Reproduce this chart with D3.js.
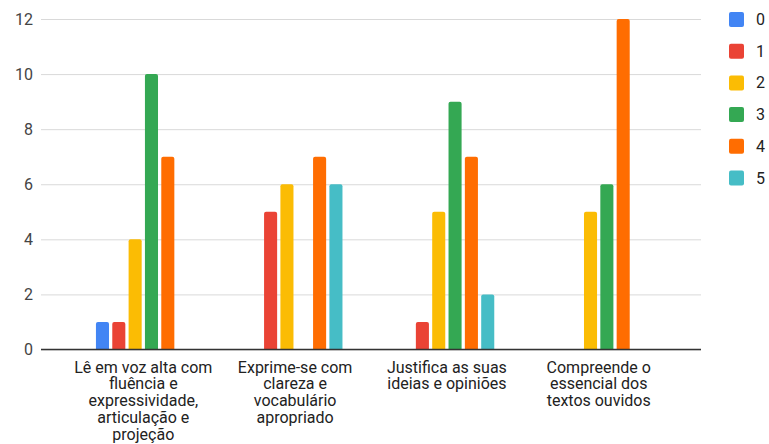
<!DOCTYPE html>
<meta charset="utf-8">
<style>
    body {
        margin: 0;
        background: #fff;
        font-family: Roboto, "Noto Sans", sans-serif;
    }
</style>
<svg width="769" height="444"></svg>
<script src="https://d3js.org/d3.v7.min.js"></script>
<script>
    // data
    var categories = [
        ["Lê em voz alta com", "fluência e", "expressividade,", "articulação e", "projeção"],
        ["Exprime-se com", "clareza e", "vocabulário", "apropriado"],
        ["Justifica as suas", "ideias e opiniões"],
        ["Compreende o", "essencial dos", "textos ouvidos"]
    ];
    var seriesNames = ["0", "1", "2", "3", "4", "5"];
    var s0 = [1, 0, 0, 0];
    var s1 = [1, 5, 1, 0];
    var s2 = [4, 6, 5, 5];
    var s3 = [10, 0, 9, 6];
    var s4 = [7, 7, 7, 12];
    var s5 = [0, 6, 2, 0];
    var yTicks = [0, 2, 4, 6, 8, 10, 12];
    var colors = ["#4285f4", "#ea4335", "#fbbc04", "#34a853", "#ff6d01", "#46bdc6"];

    var series = [s0, s1, s2, s3, s4, s5];

    var svg = d3.select("svg"),
        plotLeft = 41, plotRight = 701, plotTop = 19, plotBottom = 349.5;

    var x0 = d3.scaleBand()
        .domain(d3.range(categories.length))
        .range([plotLeft, plotRight])
        .paddingInner(0)
        .paddingOuter(0.174);

    var groupW = 98;
    var x1 = d3.scaleBand()
        .domain(seriesNames)
        .range([-groupW / 2, groupW / 2])
        .paddingInner(0.2)
        .paddingOuter(0.1);

    var y = d3.scaleLinear().domain([0, 12]).range([plotBottom, plotTop]);

    // gridlines + tick labels
    var yAxis = d3.axisLeft(y).tickValues(yTicks).tickSize(-(plotRight - plotLeft)).tickPadding(8);
    var gy = svg.append("g")
        .attr("transform", "translate(" + plotLeft + ",0)")
        .call(yAxis);
    gy.select(".domain").remove();
    gy.selectAll(".tick line").attr("stroke", "#d9d9d9").attr("stroke-width", 1);
    gy.selectAll(".tick text")
        .attr("fill", "#444")
        .style("font-size", "16px")
        .style("font-family", "Roboto, sans-serif");

    // bars
    var bars = [];
    series.forEach(function (vals, si) {
        vals.forEach(function (v, ci) {
            if (v > 0) bars.push({ s: si, c: ci, v: v });
        });
    });

    svg.append("g").selectAll("path")
        .data(bars)
        .enter().append("path")
        .attr("fill", function (d) { return colors[d.s]; })
        .attr("d", function (d) {
            var bx = x0(d.c) + x0.bandwidth() / 2 + x1(seriesNames[d.s]),
                w = x1.bandwidth(),
                by = y(d.v),
                r = 2;
            return "M" + bx + "," + plotBottom +
                "V" + (by + r) +
                "Q" + bx + "," + by + " " + (bx + r) + "," + by +
                "H" + (bx + w - r) +
                "Q" + (bx + w) + "," + by + " " + (bx + w) + "," + (by + r) +
                "V" + plotBottom + "Z";
        });

    // baseline
    svg.append("line")
        .attr("x1", plotLeft).attr("x2", plotRight)
        .attr("y1", y(0)).attr("y2", y(0))
        .attr("stroke", "#333").attr("stroke-width", 1.5);

    // category labels (wrapped)
    var xAxis = d3.axisBottom(x0).tickSize(0).tickFormat("");
    var gx = svg.append("g").attr("transform", "translate(0," + plotBottom + ")").call(xAxis);
    gx.select(".domain").remove();
    gx.selectAll(".tick").each(function (ci) {
        var t = d3.select(this).append("text")
            .attr("text-anchor", "middle")
            .attr("fill", "#222")
            .style("font-size", "16px")
            .style("font-family", "Roboto, sans-serif");
        categories[ci].forEach(function (line, i) {
            t.append("tspan").attr("x", 0).attr("y", 23 + i * 16.8).text(line);
        });
    });

    // legend
    var lg = svg.append("g").selectAll("g")
        .data(seriesNames)
        .enter().append("g")
        .attr("transform", function (d, i) { return "translate(729," + (12 + i * 31.7) + ")"; });
    lg.append("rect")
        .attr("width", 15).attr("height", 15).attr("rx", 2)
        .attr("fill", function (d, i) { return colors[i]; });
    lg.append("text")
        .attr("x", 27).attr("y", 13)
        .attr("fill", "#222")
        .style("font-size", "16px")
        .text(function (d) { return d; });
</script>
